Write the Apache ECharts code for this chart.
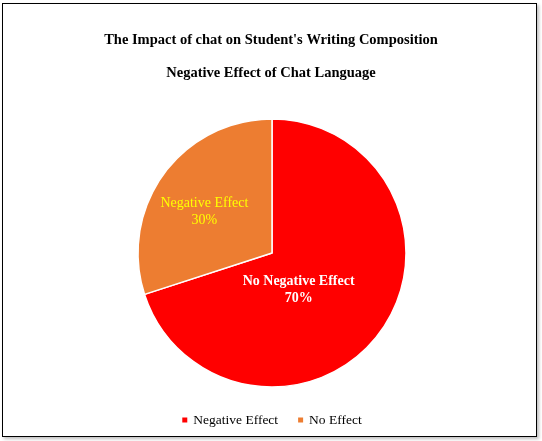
<!DOCTYPE html>
<html>
<head>
<meta charset="utf-8">
<script src="https://cdn.jsdelivr.net/npm/echarts@6/dist/echarts.min.js"></script>
<style>
    html, body { margin: 0; padding: 0; background: #fff; }
    #chart { width: 542px; height: 441px; }
    /* 外框：左上黑线，右下阴影 */
    #frame {
        position: absolute; left: 2px; top: 3px; width: 533px; height: 432px;
        border: 1.5px solid #000; box-shadow: 2px 2px 3px rgba(0,0,0,0.25);
        pointer-events: none;
    }
</style>
</head>
<body>
<div id="frame"></div>
<div id="chart" style="position:absolute;left:0;top:0;"></div>
<script>
// 数据
const titleMain = "The Impact of chat on Student's Writing Composition";
const titleSub = 'Negative Effect of Chat Language';
const categories = ['Negative Effect', 'No Effect'];     // 图例名称
const sliceLabels = ['No Negative Effect', 'Negative Effect']; // 扇区内标签
const values = [70, 30];
const colors = ['#FF0000', '#ED7D31'];

document.addEventListener('DOMContentLoaded', () => {
    const chart = echarts.init(document.getElementById('chart'));
    const serif = "'Liberation Serif', serif";

    const option = {
        animation: false,
        title: [
            { text: titleMain, left: 'center', top: 28,
              textStyle: { fontFamily: serif, fontSize: 14.5, fontWeight: 'bold', color: '#000' } },
            { text: titleSub, left: 'center', top: 61,
              textStyle: { fontFamily: serif, fontSize: 14.5, fontWeight: 'bold', color: '#000' } }
        ],
        legend: {
            data: categories,
            top: 408,
            left: 'center',
            icon: 'rect',
            itemWidth: 7,
            itemHeight: 7,
            itemGap: 18,
            textStyle: { fontFamily: serif, fontSize: 13.5, color: '#000' }
        },
        series: [{
            type: 'pie',
            center: [272, 253],
            radius: 134,
            startAngle: 90,
            clockwise: true,
            itemStyle: { borderColor: '#fff', borderWidth: 1.5 },
            label: {
                show: true,
                position: 'inside',
                fontFamily: serif,
                fontSize: 14,
                lineHeight: 17,
                formatter: p => sliceLabels[p.dataIndex] + '\n' + p.value + '%'
            },
            labelLayout: p => (p.dataIndex === 0 ? { dx: -30, dy: -4 } : { dx: -11, dy: 0 }),
            data: categories.map((name, i) => ({
                name: name,
                value: values[i],
                itemStyle: { color: colors[i] },
                label: i === 0
                    ? { color: '#fff', fontWeight: 'bold' }
                    : { color: '#FFFF00', fontWeight: 'normal' }
            }))
        }]
    };

    chart.setOption(option);
});
</script>
</body>
</html>
